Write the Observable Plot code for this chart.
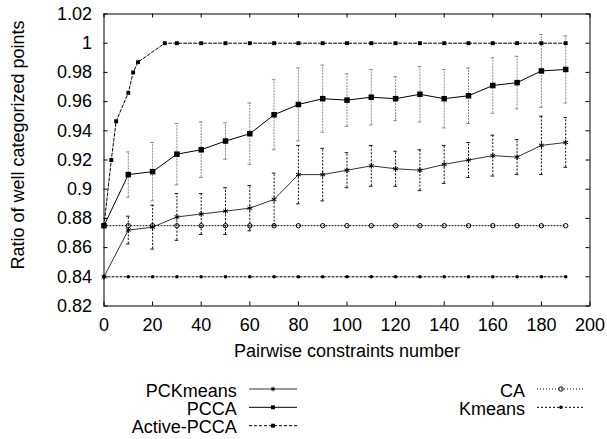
<!DOCTYPE html>
<html><head><meta charset="utf-8">
<script src="https://cdn.jsdelivr.net/npm/d3@7"></script>
<script src="https://cdn.jsdelivr.net/npm/@observablehq/plot@0.6"></script>
<style>
html,body{margin:0;padding:0;background:#fff;}
#wrap{position:relative;width:607px;height:439px;font-family:"Liberation Sans",Arial,sans-serif;font-size:18px;color:#000;overflow:hidden;}
.lg{position:absolute;line-height:16px;height:16px;white-space:nowrap;text-align:right;}
</style></head><body><div id="wrap"></div>
<script>
// ---------- data ----------
const xs = [0,10,20,30,40,50,60,70,80,90,100,110,120,130,140,150,160,170,180,190];
const pckmeans    = [0.840,0.872,0.874,0.881,0.883,0.885,0.887,0.893,0.910,0.910,0.913,0.916,0.914,0.913,0.917,0.920,0.923,0.922,0.930,0.932];
const pckmeansErr = [0,0.0095,0.015,0.016,0.014,0.016,0.0155,0.018,0.020,0.018,0.012,0.014,0.012,0.014,0.013,0.012,0.014,0.012,0.020,0.017];
const pcca        = [0.875,0.910,0.912,0.924,0.927,0.933,0.938,0.951,0.958,0.962,0.961,0.963,0.962,0.965,0.962,0.964,0.971,0.973,0.981,0.982];
const pccaErr     = [0,0.0155,0.020,0.021,0.019,0.0125,0.021,0.024,0.025,0.023,0.018,0.019,0.015,0.019,0.020,0.019,0.019,0.018,0.025,0.023];
const activeX = [0,3,5,10,12,14,25,30,40,50,60,70,80,90,100,110,120,130,140,150,160,170,180,190];
const activeY = [0.875,0.920,0.9465,0.966,0.980,0.987,1,1,1,1,1,1,1,1,1,1,1,1,1,1,1,1,1,1];
const ca     = [0.875,0.875,0.875,0.875,0.875,0.875,0.875,0.875,0.875,0.875,0.875,0.875,0.875,0.875,0.875,0.875,0.875,0.875,0.875,0.875];
const kmeans = [0.84,0.84,0.84,0.84,0.84,0.84,0.84,0.84,0.84,0.84,0.84,0.84,0.84,0.84,0.84,0.84,0.84,0.84,0.84,0.84];

const xTicks = [0,20,40,60,80,100,120,140,160,180,200];
const xTickLabels = ["0","20","40","60","80","100","120","140","160","180","200"];
const yTicks = [0.82,0.84,0.86,0.88,0.90,0.92,0.94,0.96,0.98,1.00,1.02];
const yTickLabels = ["0.82","0.84","0.86","0.88","0.9","0.92","0.94","0.96","0.98","1","1.02"];
const xLabel = "Pairwise constraints number";
const yLabel = "Ratio of well categorized points";
const seriesNames = ["PCKmeans","PCCA","Active-PCCA","CA","Kmeans"];

// ---------- styles ----------
const st = {
  "PCKmeans":    {stroke:"#333", dash:null,  symbol:"asterisk", r:2.6, fill:"none", symStroke:"#000"},
  "PCCA":        {stroke:"#000", dash:null,  symbol:"square",   r:3.1, fill:"#000", symStroke:"none"},
  "Active-PCCA": {stroke:"#000", dash:"3,2", symbol:"square",   r:2.2, fill:"#000", symStroke:"none"},
  "CA":          {stroke:"#000", dash:"1,2", symbol:"circle",   r:2.2, fill:"none", symStroke:"#000"},
  "Kmeans":      {stroke:"#000", dash:"2,2", symbol:"circle",   r:1.8, fill:"#000", symStroke:"none"}
};

// ---------- tables ----------
const pckData = xs.map((x,i)=>({x, y:pckmeans[i], lo:pckmeans[i]-pckmeansErr[i], hi:pckmeans[i]+pckmeansErr[i], e:pckmeansErr[i]}));
const pccaData = xs.map((x,i)=>({x, y:pcca[i], lo:pcca[i]-pccaErr[i], hi:pcca[i]+pccaErr[i], e:pccaErr[i]}));
const activeData = activeX.map((x,i)=>({x, y:activeY[i]}));
const caData = xs.map((x,i)=>({x, y:ca[i]}));
const kmData = xs.map((x,i)=>({x, y:kmeans[i]}));
const pckErrData = pckData.filter(d=>d.e>0);
const pccaErrData = pccaData.filter(d=>d.e>0);

const W = 607, H = 365;
const mL = 103.5, mR = 17.5, mT = 13.5, mB = 59.5;
const innerW = W - mL - mR, innerH = H - mT - mB;

function series(data, name) {
  const s = st[name];
  return [
    Plot.line(data, {x:"x", y:"y", stroke:s.stroke, strokeWidth:1, strokeDasharray:s.dash ?? undefined}),
    Plot.dot(data, {x:"x", y:"y", symbol:s.symbol, r:s.r, fill:s.fill, stroke:s.symStroke, strokeWidth:1})
  ];
}
function errbars(data, color, dash) {
  return [
    Plot.ruleX(data, {x:"x", y1:"lo", y2:"hi", stroke:color, strokeWidth:1, strokeDasharray:dash}),
    Plot.ruleY(data, {y:"hi", x1:"x", x2:"x", insetLeft:-1.8, insetRight:-1.8, stroke:color, strokeWidth:1}),
    Plot.ruleY(data, {y:"lo", x1:"x", x2:"x", insetLeft:-1.8, insetRight:-1.8, stroke:color, strokeWidth:1})
  ];
}

const chart = Plot.plot({
  width: W, height: H,
  marginLeft: mL, marginRight: mR, marginTop: mT, marginBottom: mB,
  style: {fontFamily: "'Liberation Sans', Arial, sans-serif", fontSize: "18px", color: "#000", background: "#fff"},
  x: {domain: [0, 200]},
  y: {domain: [0.82, 1.02]},
  marks: [
    Plot.axisX({ticks: xTicks, tickSize: 0, tickPadding: 12, label: null, tickFormat: d => xTickLabels[xTicks.indexOf(d)]}),
    Plot.axisY({ticks: yTicks, tickSize: 0, tickPadding: 12, label: null, tickFormat: d => yTickLabels[yTicks.findIndex(t => Math.abs(t - d) < 1e-9)]}),
    Plot.tickX(xTicks, {x: d => d, insetTop: innerH - 4, stroke: "#000"}),
    Plot.tickX(xTicks, {x: d => d, insetBottom: innerH - 4, stroke: "#000"}),
    Plot.tickY(yTicks, {y: d => d, insetRight: innerW - 4, stroke: "#000"}),
    Plot.tickY(yTicks, {y: d => d, insetLeft: innerW - 4, stroke: "#000"}),
    ...errbars(pccaErrData, "#8c8c8c", "2,1"),
    ...errbars(pckErrData, "#111", "2,1.5"),
    ...series(kmData, "Kmeans"),
    ...series(caData, "CA"),
    ...series(activeData, "Active-PCCA"),
    ...series(pccaData, "PCCA"),
    ...series(pckData, "PCKmeans"),
    Plot.frame({stroke: "#000", strokeWidth: 1}),
    Plot.text([xLabel], {text: d => d, frameAnchor: "bottom", textAnchor: "middle", lineAnchor: "middle", dy: 45.7, fill: "#000"}),
    Plot.text([yLabel], {text: d => d, frameAnchor: "left", textAnchor: "middle", lineAnchor: "middle", dx: -85.3, dy: -15, rotate: -90, fill: "#000"})
  ]
});
const wrap = document.getElementById("wrap");
wrap.appendChild(chart);

// ---------- legend ----------
const legendCols = [
  {textRight: 236.7, x0: 249, x1: 297, names: ["PCKmeans","PCCA","Active-PCCA"]},
  {textRight: 525,   x0: 537, x1: 585, names: ["CA","Kmeans"]}
];
const rowTop = [382.8, 400.8, 418.8];
const rowMid = [389, 407.3, 425.7];
const legTop = H;
const lsvg = d3.create("svg").attr("width", W).attr("height", 439 - H)
  .style("position","absolute").style("left","0px").style("top", legTop + "px");
const symMap = {asterisk: d3.symbolAsterisk, square: d3.symbolSquare, circle: d3.symbolCircle};
legendCols.forEach(col => {
  col.names.forEach((name, r) => {
    const s = st[name];
    const div = document.createElement("div");
    div.className = "lg";
    div.textContent = name;
    div.style.right = (W - col.textRight) + "px";
    div.style.top = rowTop[r] + "px";
    wrap.appendChild(div);
    const y = rowMid[r] - legTop;
    const ln = lsvg.append("line").attr("x1", col.x0).attr("x2", col.x1).attr("y1", y).attr("y2", y)
      .attr("stroke", s.stroke).attr("stroke-width", 1);
    if (s.dash) ln.attr("stroke-dasharray", s.dash);
    const rr = Math.min(s.r, 2.2);
    lsvg.append("path").attr("d", d3.symbol(symMap[s.symbol], rr * rr * Math.PI)())
      .attr("transform", `translate(${(col.x0 + col.x1) / 2},${y})`)
      .attr("fill", s.fill).attr("stroke", s.symStroke === "none" ? null : s.symStroke).attr("stroke-width", 1);
  });
});
wrap.appendChild(lsvg.node());
</script></body></html>
